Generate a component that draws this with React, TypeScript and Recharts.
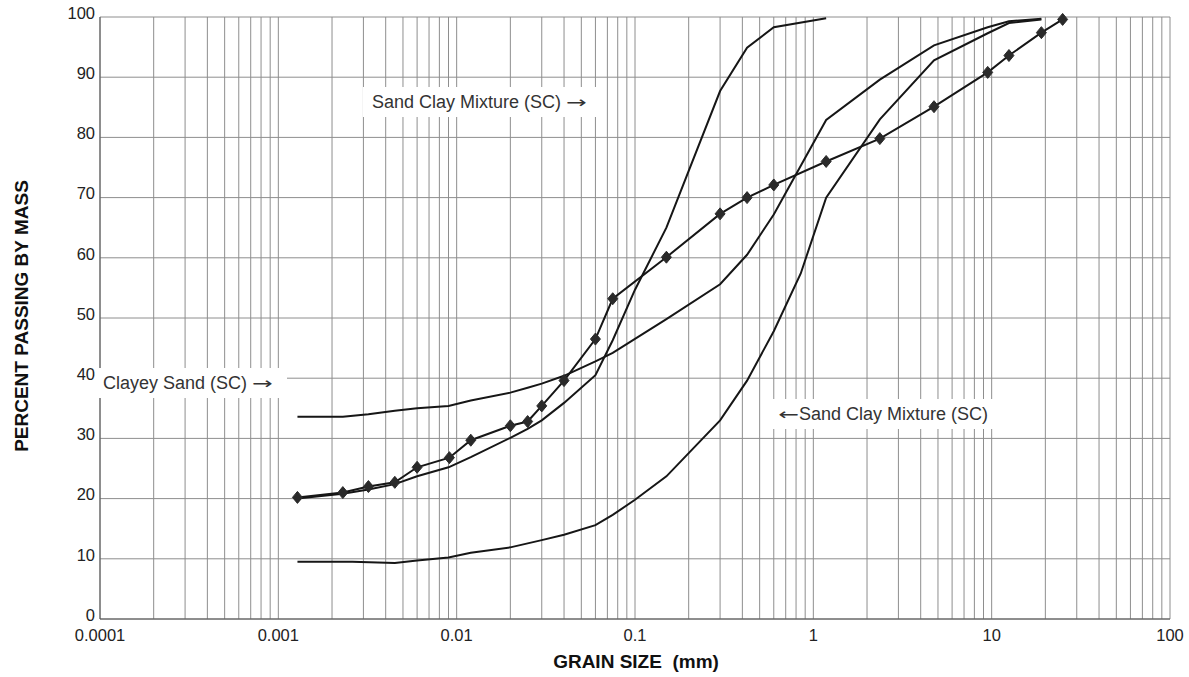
import React from "react";
import { LineChart, Line, XAxis, YAxis, CartesianGrid } from "recharts";

// grain size (mm) and percent passing
const diamondSizes = [0.00128, 0.0023, 0.0032, 0.0045, 0.006, 0.0091, 0.012, 0.02, 0.025, 0.03, 0.04, 0.06, 0.075, 0.15, 0.3, 0.425, 0.6, 1.18, 2.36, 4.75, 9.5, 12.5, 19, 25];
const diamondPassing = [20.2, 21.0, 22.0, 22.7, 25.2, 26.8, 29.7, 32.1, 32.8, 35.4, 39.6, 46.5, 53.2, 60.1, 67.3, 70.0, 72.1, 76.0, 79.8, 85.1, 90.8, 93.6, 97.4, 99.6];

const clayeySizes = [0.00128, 0.0023, 0.0032, 0.0045, 0.006, 0.009, 0.012, 0.02, 0.025, 0.03, 0.04, 0.06, 0.075, 0.15, 0.3, 0.425, 0.6, 1.18, 2.36, 4.75, 9.5, 12.5, 19];
const clayeyPassing = [33.6, 33.6, 34.0, 34.6, 35.0, 35.4, 36.3, 37.6, 38.4, 39.1, 40.4, 42.8, 44.2, 49.8, 55.6, 60.5, 67.2, 82.9, 89.6, 95.3, 98.3, 99.3, 99.7];

const steepSizes = [0.00128, 0.0023, 0.0032, 0.0045, 0.006, 0.009, 0.012, 0.02, 0.025, 0.03, 0.04, 0.06, 0.075, 0.1, 0.15, 0.3, 0.425, 0.6, 1.18];
const steepPassing = [20.0, 20.8, 21.5, 22.4, 23.7, 25.2, 26.9, 30.1, 31.6, 33.0, 35.9, 40.5, 46.3, 54.7, 65.0, 87.7, 94.9, 98.3, 99.8];

const coarseSizes = [0.00128, 0.0026, 0.0045, 0.006, 0.009, 0.012, 0.02, 0.03, 0.04, 0.06, 0.075, 0.1, 0.15, 0.3, 0.425, 0.6, 0.85, 1.18, 2.36, 4.75, 9.5, 12.5, 19];
const coarsePassing = [9.5, 9.5, 9.3, 9.7, 10.2, 11.0, 11.9, 13.1, 14.0, 15.6, 17.3, 19.8, 23.7, 33.0, 39.6, 47.8, 57.4, 70.0, 83.0, 92.8, 97.3, 99.0, 99.6];

const decades = [0.0001, 0.001, 0.01, 0.1, 1, 10, 100];
const gridSizes = decades.slice(0, -1).flatMap((d) => [1, 2, 3, 4, 5, 6, 7, 8, 9].map((m) => +(d * m).toPrecision(3))).concat([100]);
const percentTicks = [0, 10, 20, 30, 40, 50, 60, 70, 80, 90, 100];

const toRows = (sizes: number[], passing: number[]) =>
  sizes.map((size, i) => ({ size, pct: passing[i] }));

const FONT = "'Liberation Sans', Arial, sans-serif";
const ARROW_FONT = "'DejaVu Sans', sans-serif";

function Diamond(props: any) {
  const { cx, cy, index } = props;
  if (cx == null || cy == null) return null;
  return (
    <path
      key={`dm-${index}`}
      d={`M${cx},${cy - 6}L${cx + 5},${cy}L${cx},${cy + 6}L${cx - 5},${cy}Z`}
      fill="#2a2a2a"
      stroke="#2a2a2a"
      strokeWidth={1}
    />
  );
}

function isDecade(v: number) {
  const l = Math.log10(v);
  return Math.abs(l - Math.round(l)) < 1e-6;
}

function YTick(props: any) {
  const { x, y, payload } = props;
  return (
    <text x={x} y={y - 4} dy="0.355em" textAnchor="end" fontSize={16.5} fill="#222" fontFamily={FONT}>
      {payload.value}
    </text>
  );
}

function XTick(props: any) {
  const { x, y, payload } = props;
  if (!isDecade(payload.value)) return null;
  return (
    <text x={x} y={y} dy="0.9em" textAnchor="middle" fontSize={16.5} fill="#222" fontFamily={FONT}>
      {String(payload.value)}
    </text>
  );
}

const noteStyle: React.CSSProperties = {
  position: "absolute",
  background: "#fff",
  color: "#333",
  fontFamily: FONT,
  fontSize: 18,
  whiteSpace: "nowrap",
  display: "flex",
  alignItems: "center",
  boxSizing: "border-box",
};

const arrow: React.CSSProperties = {
  fontFamily: ARROW_FONT,
  fontSize: 16,
  display: "inline-block",
  width: 21,
  textAlign: "center",
  transform: "scale(1.55, 1)",
};

export default function App() {
  const lineProps = {
    type: "linear" as const,
    dataKey: "pct",
    stroke: "#161616",
    strokeWidth: 2,
    isAnimationActive: false,
  };
  return (
    <div style={{ position: "absolute", left: 0, top: 0, width: 1189, height: 677, background: "#fff", fontFamily: FONT }}>
      <LineChart width={1189} height={677} margin={{ top: 17, right: 19, left: 60, bottom: 28 }}>
        <CartesianGrid stroke="#8e8e8e" strokeWidth={1} />
        <XAxis
          type="number"
          dataKey="size"
          scale="log"
          domain={[0.0001, 100]}
          allowDataOverflow
          ticks={gridSizes}
          interval={0}
          tickLine={false}
          tickSize={0}
          tickMargin={7}
          height={30}
          axisLine={{ stroke: "#555" }}
          tick={<XTick />}
        />
        <YAxis
          type="number"
          domain={[0, 100]}
          ticks={percentTicks}
          interval={0}
          width={40}
          tickLine={false}
          tickSize={0}
          tickMargin={5}
          axisLine={{ stroke: "#555" }}
          tick={<YTick />}
        />
        <Line {...lineProps} data={toRows(clayeySizes, clayeyPassing)} dot={false} />
        <Line {...lineProps} data={toRows(steepSizes, steepPassing)} dot={false} />
        <Line {...lineProps} data={toRows(coarseSizes, coarsePassing)} dot={false} />
        <Line {...lineProps} data={toRows(diamondSizes, diamondPassing)} dot={<Diamond />} />
      </LineChart>

      <div style={{ ...noteStyle, left: 95, top: 368, width: 192, height: 30, paddingLeft: 8 }}>
        Clayey Sand (SC)&nbsp;<span style={arrow}>→</span>
      </div>
      <div style={{ ...noteStyle, left: 363, top: 87, width: 238, height: 30, paddingLeft: 9 }}>
        Sand Clay Mixture (SC)&nbsp;<span style={arrow}>→</span>
      </div>
      <div style={{ ...noteStyle, left: 762, top: 399, width: 236, height: 30, paddingLeft: 16 }}>
        <span style={arrow}>←</span>Sand Clay Mixture (SC)
      </div>

      <div
        style={{
          position: "absolute",
          left: 22,
          top: 316,
          transform: "translate(-50%, -50%) rotate(-90deg)",
          fontFamily: FONT,
          fontWeight: "bold",
          fontSize: 19,
          whiteSpace: "nowrap",
          color: "#111",
        }}
      >
        PERCENT PASSING BY MASS
      </div>
      <div
        style={{
          position: "absolute",
          left: 636,
          top: 662,
          transform: "translate(-50%, -50%)",
          fontFamily: FONT,
          fontWeight: "bold",
          fontSize: 19,
          whiteSpace: "pre",
          color: "#111",
        }}
      >
        GRAIN SIZE  (mm)
      </div>
    </div>
  );
}
